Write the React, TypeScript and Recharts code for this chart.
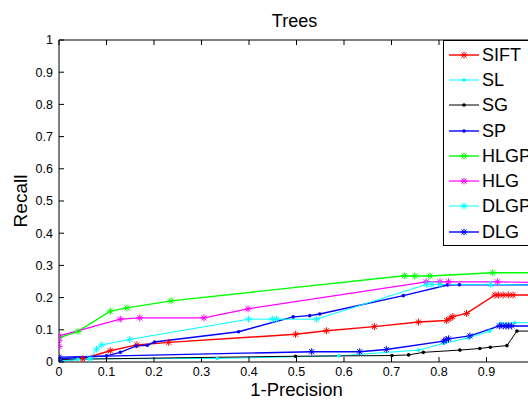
import { LineChart, Line, XAxis, YAxis, Legend, Label } from "recharts"

// Recall vs 1-Precision, "Trees" set. Points as [1-precision, recall].
const X_TICKS = [0, 0.1, 0.2, 0.3, 0.4, 0.5, 0.6, 0.7, 0.8, 0.9, 1]
const Y_TICKS = [0, 0.1, 0.2, 0.3, 0.4, 0.5, 0.6, 0.7, 0.8, 0.9, 1]
const TICK_LABELS = ["0", "0.1", "0.2", "0.3", "0.4", "0.5", "0.6", "0.7", "0.8", "0.9", "1"]

const SIFT: [number, number][] = [
  [0, 0.003], [0.05, 0.01], [0.108, 0.035], [0.164, 0.053], [0.231, 0.061], [0.498, 0.086],
  [0.563, 0.097], [0.664, 0.11], [0.757, 0.124], [0.816, 0.129], [0.823, 0.135], [0.829, 0.141],
  [0.858, 0.151], [0.918, 0.208], [0.925, 0.208], [0.935, 0.208], [0.946, 0.208], [0.956, 0.208], [1, 0.208],
]
const SL: [number, number][] = [
  [0, 0.003], [0.04, 0.008], [0.065, 0.01], [0.333, 0.011], [0.589, 0.019], [0.757, 0.037],
  [0.81, 0.058], [0.862, 0.075], [0.907, 0.096], [0.93, 0.12], [0.96, 0.122], [1, 0.122],
]
const SG: [number, number][] = [
  [0, 0.008], [0.498, 0.018], [0.701, 0.02], [0.736, 0.022], [0.767, 0.03], [0.844, 0.037],
  [0.886, 0.042], [0.908, 0.046], [0.943, 0.051], [0.964, 0.096], [1, 0.096],
]
const SP: [number, number][] = [
  [0, 0.01], [0.1, 0.019], [0.129, 0.03], [0.163, 0.05], [0.186, 0.052], [0.201, 0.062],
  [0.378, 0.094], [0.493, 0.14], [0.528, 0.144], [0.549, 0.149], [0.725, 0.206], [0.818, 0.239],
  [0.843, 0.24], [1, 0.24],
]
const HLGP: [number, number][] = [
  [0, 0.075], [0.04, 0.095], [0.108, 0.158], [0.143, 0.168], [0.236, 0.19], [0.727, 0.268],
  [0.749, 0.267], [0.781, 0.267], [0.913, 0.277], [1, 0.277],
]
const HLG: [number, number][] = [
  [0, 0.048], [0, 0.066], [0, 0.081], [0.129, 0.133], [0.17, 0.137], [0.305, 0.137], [0.398, 0.165],
  [0.773, 0.249], [0.802, 0.249], [0.82, 0.249], [0.923, 0.249], [1, 0.247],
]
const DLGP: [number, number][] = [
  [0, 0.003], [0.065, 0.01], [0.079, 0.04], [0.09, 0.053], [0.149, 0.07], [0.399, 0.133],
  [0.449, 0.133], [0.458, 0.133], [0.542, 0.133], [0.774, 0.241], [0.785, 0.241], [0.802, 0.241],
  [0.909, 0.241], [1, 0.239],
]
const DLG: [number, number][] = [
  [0, 0.005], [0, 0.015], [0.532, 0.032], [0.633, 0.032], [0.689, 0.039], [0.81, 0.065],
  [0.815, 0.07], [0.82, 0.072], [0.865, 0.081], [0.927, 0.112], [0.935, 0.112], [0.941, 0.112],
  [0.946, 0.112], [0.953, 0.112], [1, 0.112],
]

type Marker = "star" | "dot"
// xAxis: series are split over the bottom and the top x axis (both 0..1) so the top box edge gets drawn
const SERIES: { name: string; pts: [number, number][]; color: string; marker: Marker; width: number; xAxis: string }[] = [
  { name: "SIFT", pts: SIFT, color: "#ff0000", marker: "star", width: 1.4, xAxis: "bottom" },
  { name: "SL", pts: SL, color: "#00ffff", marker: "dot", width: 1, xAxis: "bottom" },
  { name: "SG", pts: SG, color: "#000000", marker: "dot", width: 1, xAxis: "bottom" },
  { name: "SP", pts: SP, color: "#0000ff", marker: "dot", width: 1.4, xAxis: "bottom" },
  { name: "HLGP", pts: HLGP, color: "#00ff00", marker: "star", width: 1.4, xAxis: "top" },
  { name: "HLG", pts: HLG, color: "#ff00ff", marker: "star", width: 1.2, xAxis: "bottom" },
  { name: "DLGP", pts: DLGP, color: "#00ffff", marker: "star", width: 1, xAxis: "bottom" },
  { name: "DLG", pts: DLG, color: "#0000ff", marker: "star", width: 1.4, xAxis: "bottom" },
]

const FONT = '"Liberation Sans", Arial, sans-serif'

function MarkerShape({ cx, cy, color, marker }: { cx: number; cy: number; color: string; marker: Marker }) {
  if (marker === "dot") return <circle cx={cx} cy={cy} r={1.8} fill={color} />
  const r = 3.5
  const d = 2.5
  return (
    <g stroke={color} strokeWidth={1}>
      <line x1={cx - r} y1={cy} x2={cx + r} y2={cy} />
      <line x1={cx} y1={cy - r} x2={cx} y2={cy + r} />
      <line x1={cx - d} y1={cy - d} x2={cx + d} y2={cy + d} />
      <line x1={cx - d} y1={cy + d} x2={cx + d} y2={cy - d} />
    </g>
  )
}

const XTick = (p: any) => (
  <g>
    <line x1={p.x} y1={p.y} x2={p.x} y2={p.y - 5} stroke="#000" />
    <text x={p.x} y={p.y + 14} textAnchor="middle" fontSize={12.5} fill="#000">
      {TICK_LABELS[p.index]}
    </text>
  </g>
)

const TopTick = (p: any) => <line x1={p.x} y1={p.y} x2={p.x} y2={p.y + 5} stroke="#000" />

const YTick = (p: any) => (
  <g>
    <line x1={p.x} y1={p.y} x2={p.x + 5} y2={p.y} stroke="#000" />
    <text x={p.x - 6} y={p.y + 4.4} textAnchor="end" fontSize={12.5} fill="#000">
      {TICK_LABELS[p.index]}
    </text>
  </g>
)

const LegendBox = () => (
  <div style={{ border: "1px solid #000", background: "#fff", paddingTop: 1, paddingBottom: 1, width: 120 }}>
    {SERIES.map((s) => (
      <div key={s.name} style={{ display: "flex", alignItems: "center", height: 25.3 }}>
        <svg width={38} height={20} style={{ flex: "none" }}>
          <line x1={5} x2={35} y1={10} y2={10} stroke={s.color} strokeWidth={s.width} />
          <MarkerShape cx={20} cy={10} color={s.color} marker={s.marker} />
        </svg>
        <span style={{ fontSize: 18, fontFamily: FONT, color: "#000", lineHeight: 1 }}>{s.name}</span>
      </div>
    ))}
  </div>
)

export default function App() {
  return (
    <div style={{ position: "absolute", left: 0, top: 0, width: 528, height: 401, overflow: "hidden", background: "#fff" }}>
      <LineChart width={560} height={401} margin={{ top: 39, right: 26, bottom: 0, left: 0 }} style={{ fontFamily: FONT }}>
        <XAxis
          xAxisId="bottom"
          dataKey="x"
          type="number"
          domain={[0, 1]}
          ticks={X_TICKS}
          interval={0}
          tickSize={0}
          tickMargin={0}
          tick={XTick}
          height={39}
          axisLine={{ stroke: "#000" }}
          allowDataOverflow
        >
          <Label
            value="1-Precision"
            content={(props: any) => {
              const vb = props.viewBox
              return (
                <text x={vb.x + vb.width / 2} y={vb.y + 34} textAnchor="middle" fontSize={18.5} fill="#000">
                  {props.value}
                </text>
              )
            }}
          />
        </XAxis>
        <XAxis
          xAxisId="top"
          dataKey="x"
          orientation="top"
          type="number"
          domain={[0, 1]}
          ticks={X_TICKS}
          interval={0}
          tickSize={0}
          tickMargin={0}
          tick={TopTick}
          height={1}
          axisLine={{ stroke: "#000" }}
          allowDataOverflow
        >
          <Label
            value="Trees"
            content={(props: any) => {
              const vb = props.viewBox
              return (
                <text x={vb.x + vb.width / 2 - 2} y={vb.y - 12.5} textAnchor="middle" fontSize={18} fill="#000">
                  {props.value}
                </text>
              )
            }}
          />
        </XAxis>
        <YAxis
          type="number"
          domain={[0, 1]}
          ticks={Y_TICKS}
          interval={0}
          tickSize={0}
          tickMargin={0}
          tick={YTick}
          width={59}
          axisLine={{ stroke: "#000" }}
          allowDataOverflow
        >
          <Label
            value="Recall"
            content={(props: any) => {
              const vb = props.viewBox
              const cx = vb.x + 27
              const cy = vb.y + vb.height / 2
              return (
                <text x={cx} y={cy} transform={`rotate(-90, ${cx}, ${cy})`} textAnchor="middle" fontSize={19} fill="#000">
                  {props.value}
                </text>
              )
            }}
          />
        </YAxis>
        <Legend
          layout="vertical"
          align="center"
          verticalAlign="middle"
          content={LegendBox}
          wrapperStyle={{ left: 443, top: 40, width: 130, height: "auto" }}
        />
        {SERIES.map((s) => (
          <Line
            key={s.name}
            name={s.name}
            xAxisId={s.xAxis}
            data={s.pts.map(([x, y]) => ({ x, y }))}
            dataKey="y"
            type="linear"
            stroke={s.color}
            strokeWidth={s.width}
            dot={(p: any) => <MarkerShape key={`${s.name}-${p.index}`} cx={p.cx} cy={p.cy} color={s.color} marker={s.marker} />}
            activeDot={false}
            isAnimationActive={false}
          />
        ))}
      </LineChart>
    </div>
  )
}
